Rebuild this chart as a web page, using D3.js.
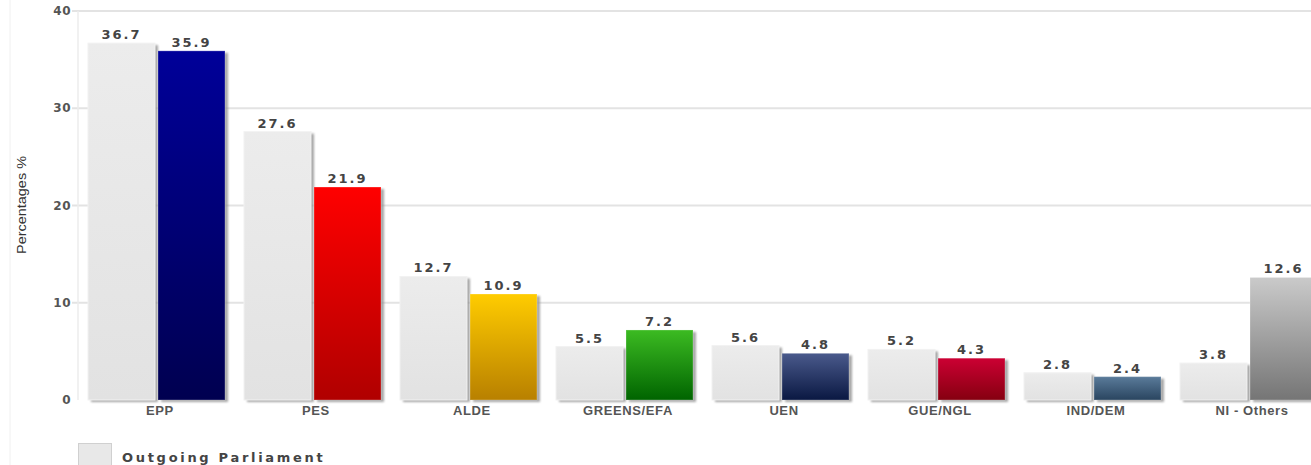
<!DOCTYPE html>
<html>
<head>
<meta charset="utf-8">
<script src="https://cdn.jsdelivr.net/npm/d3@7"></script>
<style>
  body { margin: 0; background: #fff; }
  svg { display: block; }
</style>
</head>
<body>
<svg id="chart" width="1311" height="465"></svg>
<script>
// DATA
const groups = ["EPP", "PES", "ALDE", "GREENS/EFA", "UEN", "GUE/NGL", "IND/DEM", "NI - Others"];
const outgoing = [36.7, 27.6, 12.7, 5.5, 5.6, 5.2, 2.8, 3.8];
const newParliament = [35.9, 21.9, 10.9, 7.2, 4.8, 4.3, 2.4, 12.6];
const yTicks = [0, 10, 20, 30, 40];
const groupColors = [
  ["#000099", "#000050"],
  ["#ff0000", "#b00000"],
  ["#ffcc00", "#b88000"],
  ["#3cbb22", "#006400"],
  ["#4a5a8c", "#0a1842"],
  ["#cc0033", "#850010"],
  ["#5a7b9a", "#2a4560"],
  ["#cacaca", "#757575"]
];
const legendLabel = "Outgoing Parliament";

// CANVAS SETUP
const svg = d3.select("#chart");
const margin = { top: 11, left: 82, bottom: 400 };

const x0 = d3.scaleBand().domain(groups).range([margin.left, margin.left + groups.length * 156]).paddingInner(0);
const x1 = d3.scaleBand().domain(["old", "new"]).range([6, 143]).paddingInner(0.043);
const y = d3.scaleLinear().domain([0, 40]).range([400, 11]);

const defs = svg.append("defs");
groupColors.forEach((c, i) => {
  const lg = defs.append("linearGradient").attr("id", "grad" + i)
    .attr("x1", 0).attr("y1", 0).attr("x2", 0).attr("y2", 1);
  lg.append("stop").attr("offset", "0%").attr("stop-color", c[0]);
  lg.append("stop").attr("offset", "100%").attr("stop-color", c[1]);
});
const gg = defs.append("linearGradient").attr("id", "gradGrey")
  .attr("x1", 0).attr("y1", 0).attr("x2", 0).attr("y2", 1);
gg.append("stop").attr("offset", "0%").attr("stop-color", "#ececec");
gg.append("stop").attr("offset", "100%").attr("stop-color", "#e2e2e2");
defs.append("filter").attr("id", "blur").append("feGaussianBlur").attr("stdDeviation", 1);

// faint frame line on the left
svg.append("line").attr("x1", 10).attr("x2", 10).attr("y1", 0).attr("y2", 465)
  .attr("stroke", "#f0f0f0");

// gridlines
svg.append("g").selectAll("line")
  .data(yTicks.filter(d => d > 0))
  .join("line")
  .attr("x1", 72).attr("x2", 1311)
  .attr("y1", d => y(d)).attr("y2", d => y(d))
  .attr("stroke", "#e3e3e3").attr("stroke-width", 2);

// y axis line
svg.append("line").attr("x1", 78).attr("x2", 78).attr("y1", y(40)).attr("y2", y(0))
  .attr("stroke", "#ececec").attr("stroke-width", 1.5);

// y tick labels
svg.append("g").selectAll("text")
  .data(yTicks)
  .join("text")
  .attr("x", 71).attr("y", d => y(d) + 4)
  .attr("text-anchor", "end")
  .attr("font-family", "DejaVu Sans, Verdana, sans-serif")
  .attr("font-weight", "bold").attr("font-size", 12)
  .attr("letter-spacing", 0.5)
  .attr("fill", "#555")
  .text(d => d);

// y axis title
svg.append("text")
  .attr("transform", "translate(26,205) rotate(-90)")
  .attr("text-anchor", "middle")
  .attr("font-family", "Liberation Sans, Arial, sans-serif")
  .attr("font-size", 13).attr("fill", "#333")
  .attr("textLength", 98).attr("lengthAdjust", "spacingAndGlyphs")
  .text("Percentages %");

// bars
const rows = [];
groups.forEach((g, i) => {
  rows.push({ g, key: "old", v: outgoing[i], fill: "url(#gradGrey)" });
  rows.push({ g, key: "new", v: newParliament[i], fill: `url(#grad${i})` });
});

const bars = svg.append("g");
bars.selectAll("rect.shadow")
  .data(rows)
  .join("rect")
  .attr("class", "shadow")
  .attr("x", d => x0(d.g) + x1(d.key) + 3)
  .attr("y", d => y(d.v) + 2)
  .attr("width", x1.bandwidth())
  .attr("height", d => y(0) - y(d.v))
  .attr("fill", "#8a8a8a")
  .attr("opacity", 0.75)
  .attr("filter", "url(#blur)");

bars.selectAll("rect.bar")
  .data(rows)
  .join("rect")
  .attr("class", "bar")
  .attr("x", d => x0(d.g) + x1(d.key))
  .attr("y", d => y(d.v))
  .attr("width", x1.bandwidth())
  .attr("height", d => y(0) - y(d.v))
  .attr("fill", d => d.fill)
  .attr("stroke", d => d.key === "old" ? "#f2f2f2" : "rgba(255,255,255,0.25)")
  .attr("stroke-width", 1);

// value labels
bars.selectAll("text")
  .data(rows)
  .join("text")
  .attr("x", d => x0(d.g) + x1(d.key) + x1.bandwidth() / 2)
  .attr("y", d => y(d.v) - 4)
  .attr("text-anchor", "middle")
  .attr("font-family", "DejaVu Sans, Verdana, sans-serif")
  .attr("font-weight", "bold").attr("font-size", 13)
  .attr("letter-spacing", 2)
  .attr("fill", "#444")
  .text(d => d.v.toFixed(1));

// category labels
svg.append("g").selectAll("text")
  .data(groups)
  .join("text")
  .attr("x", d => x0(d) + 78)
  .attr("y", 415)
  .attr("text-anchor", "middle")
  .attr("font-family", "Liberation Sans, Arial, sans-serif")
  .attr("font-weight", "bold").attr("font-size", 13)
  .attr("letter-spacing", 0.6)
  .attr("fill", "#555")
  .text(d => d);

// legend
const lg = svg.append("g");
lg.append("rect").attr("x", 78.5).attr("y", 443.5).attr("width", 33).attr("height", 24)
  .attr("fill", "#e8e8e8").attr("stroke", "#d0d0d0");
lg.append("text").attr("x", 122).attr("y", 462)
  .attr("font-family", "DejaVu Sans, Verdana, sans-serif")
  .attr("font-weight", "bold").attr("font-size", 13)
  .attr("letter-spacing", 2.7)
  .attr("fill", "#444")
  .text(legendLabel);
</script>
</body>
</html>
